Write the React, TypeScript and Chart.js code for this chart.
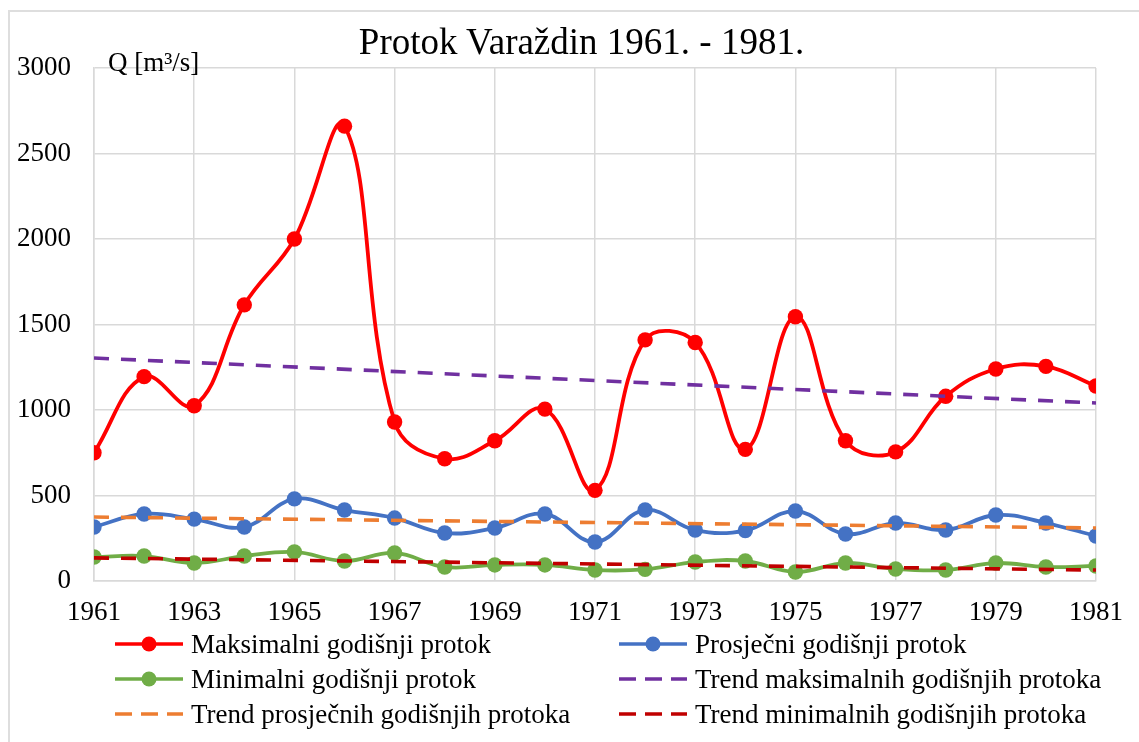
import React, { useEffect, useRef } from "react";
import { Chart, registerables } from "chart.js";

Chart.register(...registerables);

const titleText = "Protok Varaždin 1961. - 1981.";
const yAxisLabel = "Q [m³/s]";

const years = [1961, 1962, 1963, 1964, 1965, 1966, 1967, 1968, 1969, 1970, 1971, 1972, 1973, 1974, 1975, 1976, 1977, 1978, 1979, 1980, 1981];
const maxFlow = [750, 1195, 1025, 1615, 2000, 2660, 930, 715, 820, 1005, 530, 1410, 1395, 770, 1545, 820, 755, 1080, 1240, 1255, 1140];
const avgFlow = [316, 392, 362, 316, 480, 415, 368, 281, 310, 392, 228, 415, 298, 295, 409, 275, 339, 298, 386, 339, 263];
const minFlow = [140, 146, 105, 146, 170, 117, 164, 82, 94, 94, 64, 68, 111, 117, 53, 105, 70, 64, 105, 82, 88];

const trendYears = [1961, 1981];
const maxTrend = [1304, 1041];
const avgTrend = [374, 310];
const minTrend = [135, 64];

const yTicks = { min: 0, max: 3000, step: 500 };
const xTicks = { min: 1961, max: 1981, step: 2 };

const seriesLabels = [
  "Maksimalni godišnji protok",
  "Prosječni godišnji protok",
  "Minimalni godišnji protok",
  "Trend maksimalnih godišnjih protoka",
  "Trend prosječnih godišnjih protoka",
  "Trend minimalnih godišnjih protoka",
];
const seriesColors = ["#FF0000", "#4472C4", "#70AD47", "#7030A0", "#ED7D31", "#C00000"];
const seriesDashed = [false, false, false, true, true, true];

const SERIF = '"Liberation Serif", "Times New Roman", serif';
const GRID = "#d9d9d9";

const toPoints = (xs: number[], ys: number[]) => xs.map((x, i) => ({ x, y: ys[i] }));

export default function App() {
  const ref = useRef<HTMLCanvasElement | null>(null);

  useEffect(() => {
    if (!ref.current) return;
    const solid = (label: string, color: string, xs: number[], ys: number[], order: number) => ({
      label,
      data: toPoints(xs, ys),
      borderColor: color,
      backgroundColor: color,
      borderWidth: 3.8,
      pointRadius: 7.7,
      pointBorderWidth: 0,
      pointBackgroundColor: color,
      pointBorderColor: color,
      tension: 0.4,
      order,
    });
    const dashed = (label: string, color: string, xs: number[], ys: number[], order: number) => ({
      label,
      data: toPoints(xs, ys),
      borderColor: color,
      backgroundColor: color,
      borderWidth: 3.6,
      borderDash: [15, 12],
      pointRadius: 0,
      tension: 0,
      order,
    });
    const tickFont = { family: SERIF, size: 27, weight: "normal" as const };
    const chart = new Chart(ref.current, {
      type: "line",
      data: {
        datasets: [
          solid(seriesLabels[0], seriesColors[0], years, maxFlow, 5),
          solid(seriesLabels[1], seriesColors[1], years, avgFlow, 4),
          solid(seriesLabels[2], seriesColors[2], years, minFlow, 3),
          dashed(seriesLabels[3], seriesColors[3], trendYears, maxTrend, 2),
          dashed(seriesLabels[4], seriesColors[4], trendYears, avgTrend, 1),
          dashed(seriesLabels[5], seriesColors[5], trendYears, minTrend, 0),
        ],
      },
      options: {
        responsive: false,
        animation: false,
        layout: { padding: { left: 0, right: 39, top: 68, bottom: 0 } },
        plugins: {
          legend: { display: false },
          tooltip: { enabled: false },
          title: { display: false },
        },
        scales: {
          x: {
            type: "linear",
            min: xTicks.min,
            max: xTicks.max,
            ticks: {
              stepSize: xTicks.step,
              autoSkip: false,
              maxRotation: 0,
              color: "#000",
              font: tickFont,
              padding: 16,
              callback: (v: any) => String(v),
            },
            grid: { color: GRID, lineWidth: 1.5, drawTicks: false },
            border: { color: GRID, width: 1.5 },
            afterFit: (s: any) => {
              s.height = 59;
            },
          },
          y: {
            type: "linear",
            min: yTicks.min,
            max: yTicks.max,
            ticks: {
              stepSize: yTicks.step,
              color: "#000",
              font: tickFont,
              padding: 23,
              callback: (v: any) => String(v),
            },
            grid: { color: GRID, lineWidth: 1.5, drawTicks: false },
            border: { color: GRID, width: 1.5 },
            afterFit: (s: any) => {
              s.width = 94;
            },
          },
        },
      },
    } as any);
    return () => chart.destroy();
  }, []);

  return (
    <div
      style={{
        position: "absolute",
        left: 0,
        top: 0,
        width: 1139,
        height: 742,
        overflow: "hidden",
        background: "#fff",
        fontFamily: SERIF,
      }}
    >
      <div
        style={{
          position: "absolute",
          left: 8,
          top: 10,
          width: 1200,
          height: 800,
          border: "2px solid #dedede",
        }}
      />
      <canvas
        ref={ref}
        width={1139}
        height={640}
        style={{ position: "absolute", left: 0, top: 0, display: "block" }}
      />
      <div
        style={{
          position: "absolute",
          left: 0,
          width: 1163,
          top: 20.3,
          lineHeight: "44.4px",
          fontSize: 37,
          color: "#000",
          textAlign: "center",
          whiteSpace: "nowrap",
        }}
      >
        {titleText}
      </div>
      <div
        style={{
          position: "absolute",
          left: 108,
          top: 42,
          lineHeight: "40px",
          fontSize: 27,
          color: "#000",
          whiteSpace: "nowrap",
        }}
      >
        {yAxisLabel}
      </div>
      {seriesLabels.map((label, i) => {
        const col = i % 2;
        const row = Math.floor(i / 2);
        const x = col === 0 ? 115 : 619;
        const y = 644 + row * 35;
        const color = seriesColors[i];
        return (
          <React.Fragment key={label}>
            <svg
              width={68}
              height={20}
              style={{ position: "absolute", left: x, top: y - 10 }}
            >
              <line
                x1={0}
                y1={10}
                x2={68}
                y2={10}
                stroke={color}
                strokeWidth={3.6}
                strokeDasharray={seriesDashed[i] ? "17 9" : undefined}
              />
              {!seriesDashed[i] && <circle cx={34} cy={10} r={7.5} fill={color} />}
            </svg>
            <div
              style={{
                position: "absolute",
                left: x + 76,
                top: y - 20,
                lineHeight: "40px",
                fontSize: 27,
                color: "#000",
                whiteSpace: "nowrap",
              }}
            >
              {label}
            </div>
          </React.Fragment>
        );
      })}
    </div>
  );
}
